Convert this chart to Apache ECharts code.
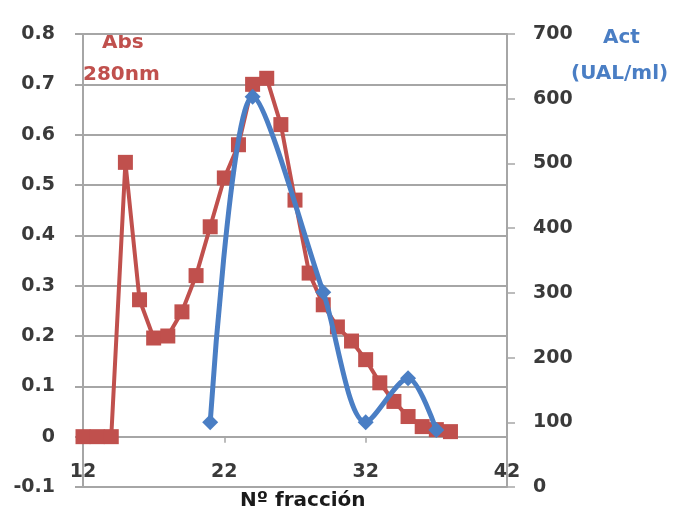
<!doctype html>
<html lang="es">
<head>
    <meta charset="UTF-8">
    <title>Abs 280nm / Act</title>
    <script src="https://cdn.jsdelivr.net/npm/echarts@6/dist/echarts.min.js"></script>
    <style>
        html, body { margin: 0; padding: 0; background: #fff; }
        #main { width: 674px; height: 508px; }
    </style>
</head>
<body>
<div id="main"></div>
<script>
    // fraccion -> Abs 280nm
    var absFrac = [12, 13, 14, 15, 16, 17, 18, 19, 20, 21, 22, 23, 24, 25, 26, 27, 28, 29, 30, 31, 32, 33, 34, 35, 36, 37, 38];
    var absVal = [0, 0, 0, 0.545, 0.272, 0.196, 0.2, 0.248, 0.32, 0.417, 0.514, 0.58, 0.70, 0.712, 0.62, 0.47, 0.325, 0.262, 0.218, 0.19, 0.153, 0.107, 0.07, 0.04, 0.02, 0.014, 0.01];

    // fraccion -> Act (UAL/ml)
    var actFrac = [21, 24, 29, 32, 35, 37];
    var actVal = [100, 603, 301, 100, 168, 88];

    var xTicks = [12, 22, 32, 42];

    var absColor = '#C0504D';
    var actColor = '#4A7EC4';
    var labelFont = '"DejaVu Sans", sans-serif';

    function pairs(xs, ys) {
        var out = [];
        for (var i = 0; i < xs.length; i++) out.push([xs[i], ys[i]]);
        return out;
    }

    function label(text, x, y, color) {
        return {
            type: 'text', x: x, y: y,
            style: { text: text, fill: color, font: 'bold 20px ' + labelFont, align: 'left', verticalAlign: 'middle' }
        };
    }

    var myChart = echarts.init(document.getElementById('main'));
    var option = {
        animation: false,
        grid: { left: 83, right: 167, top: 34, bottom: 21, containLabel: false, outerBoundsMode: 'none' },
        xAxis: {
            type: 'value',
            min: xTicks[0],
            max: xTicks[xTicks.length - 1],
            interval: 10,
            axisLine: { onZero: true, onZeroAxisIndex: 0, lineStyle: { color: '#a6a6a6', width: 2 } },
            axisTick: { show: true, length: 6, lineStyle: { color: '#a6a6a6', width: 1.5 } },
            axisLabel: {
                inside: true, margin: 5, color: '#3a3a3a', fontSize: 19, fontWeight: 'bold', fontFamily: labelFont,
                formatter: function (v) { return xTicks.indexOf(v) >= 0 ? v : ''; }
            },
            splitLine: { show: false }
        },
        yAxis: [
            {
                type: 'value',
                min: -0.1,
                max: 0.8,
                interval: 0.1,
                axisLine: { show: true, onZero: false, lineStyle: { color: '#a6a6a6', width: 2 } },
                axisTick: { show: true, length: 8, lineStyle: { color: '#a6a6a6', width: 2 } },
                axisLabel: {
                    margin: 28, color: '#3a3a3a', fontSize: 19, fontWeight: 'bold', fontFamily: labelFont,
                    formatter: function (v) { return Math.round(v * 10) / 10; }
                },
                splitLine: { show: true, lineStyle: { color: '#a6a6a6', width: 2 } }
            },
            {
                type: 'value',
                min: 0,
                max: 700,
                interval: 100,
                position: 'right',
                axisLine: { show: true, onZero: false, lineStyle: { color: '#a6a6a6', width: 2 } },
                axisTick: { show: true, length: 8, lineStyle: { color: '#a6a6a6', width: 1.5 } },
                axisLabel: {
                    margin: 26, color: '#3a3a3a', fontSize: 19, fontWeight: 'bold', fontFamily: labelFont
                },
                splitLine: { show: false }
            }
        ],
        graphic: [
            label('Abs', 102, 43, absColor),
            label('280nm', 83, 75, absColor),
            label('Act', 603, 38, actColor),
            label('(UAL/ml)', 571, 74, actColor),
            label('Nº fracción', 240, 501, '#1a1a1a')
        ],
        series: [
            {
                name: 'Abs 280nm',
                type: 'line',
                yAxisIndex: 0,
                z: 2,
                data: pairs(absFrac, absVal),
                symbol: 'rect',
                symbolSize: 15,
                lineStyle: { color: absColor, width: 4 },
                itemStyle: { color: absColor }
            },
            {
                name: 'Act (UAL/ml)',
                type: 'line',
                yAxisIndex: 1,
                z: 4,
                data: pairs(actFrac, actVal),
                smooth: 0.3,
                symbol: 'diamond',
                symbolSize: 16,
                lineStyle: { color: actColor, width: 5 },
                itemStyle: { color: actColor }
            }
        ]
    };
    myChart.setOption(option);
</script>
</body>
</html>
